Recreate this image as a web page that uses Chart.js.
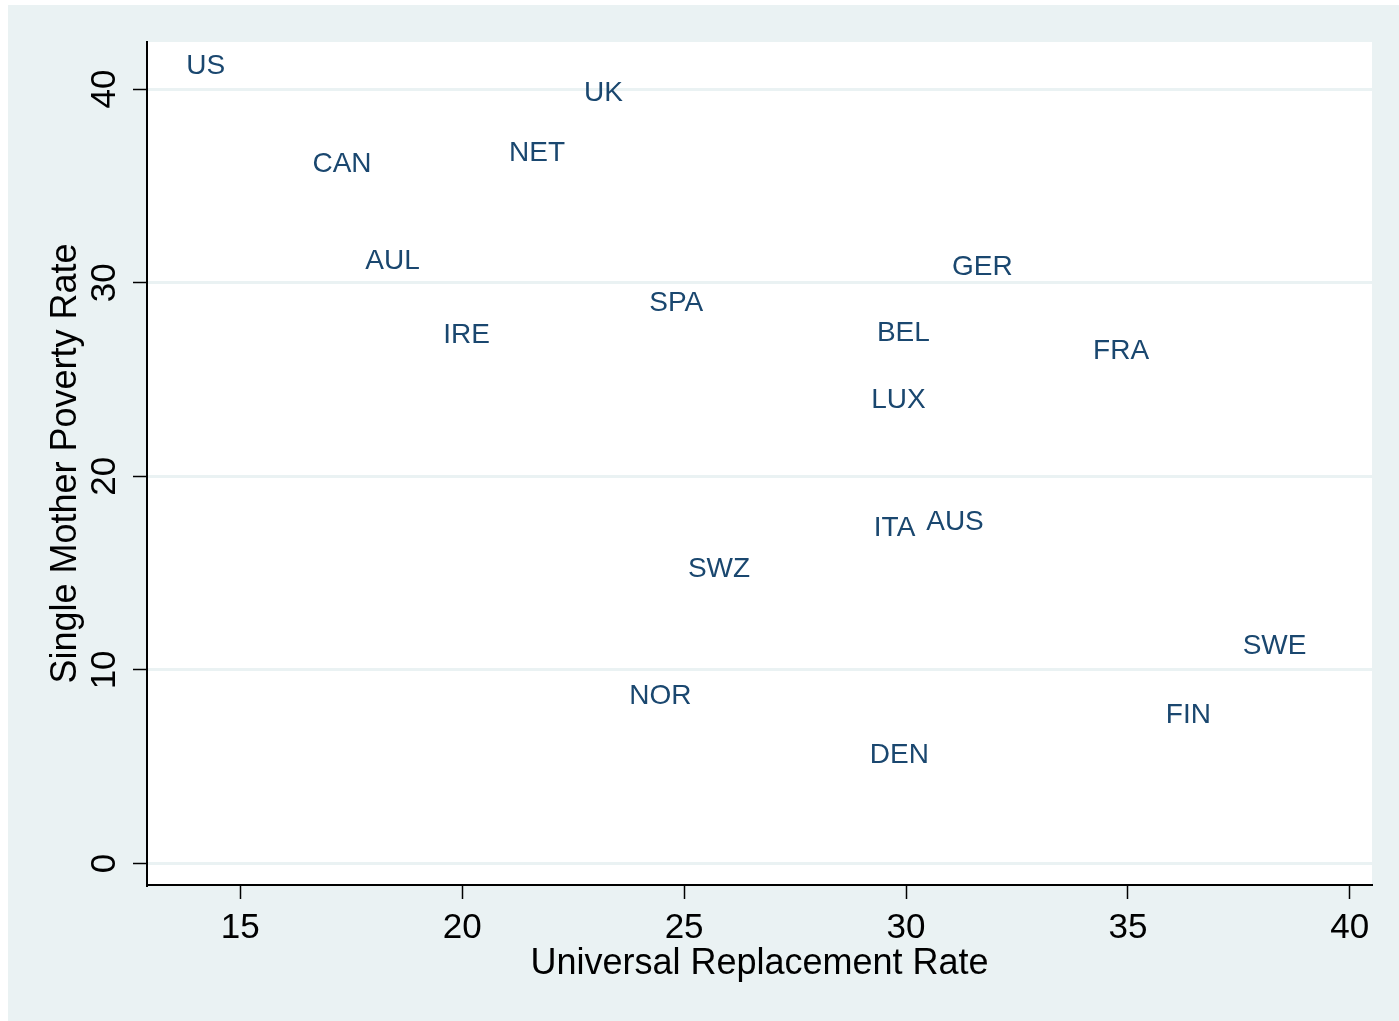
<!DOCTYPE html>
<html>
<head>
<meta charset="utf-8">
<script src="https://cdn.jsdelivr.net/npm/chart.js@4/dist/chart.umd.min.js"></script>
<style>
  html, body { margin: 0; padding: 0; background: #ffffff; }
  canvas { display: block; }
</style>
</head>
<body>
<canvas id="c" width="1399" height="1021"></canvas>
<script>
// ---- data ----
const countries = ["US","UK","CAN","NET","AUL","GER","SPA","IRE","BEL","FRA","LUX","ITA","AUS","SWZ","SWE","NOR","FIN","DEN"];
const replacementRate = [13.65,22.61,16.49,20.92,17.68,30.90,24.08,19.44,29.21,34.08,29.08,29.14,30.32,24.95,37.45,23.63,35.72,29.05];
const povertyRate = [41.29,39.90,36.23,36.80,31.21,30.90,29.04,27.39,27.49,26.56,24.03,17.42,17.73,15.30,11.32,8.73,7.75,5.68];
const xTicks = [15,20,25,30,35,40];
const yTicks = [0,10,20,30,40];
const xTitle = "Universal Replacement Rate";
const yTitle = "Single Mother Poverty Rate";

const FONT = "'Liberation Sans', Arial, Helvetica, sans-serif";
const BG = "#EAF2F3";
const LABEL_COLOR = "#1a476f";

const points = countries.map((c, i) => ({ x: replacementRate[i], y: povertyRate[i] }));

const bgPlugin = {
  id: 'bg',
  beforeDraw(chart) {
    const { ctx, width, height, chartArea } = chart;
    ctx.save();
    ctx.fillStyle = '#ffffff';
    ctx.fillRect(0, 0, width, height);
    ctx.fillStyle = BG;
    ctx.fillRect(8, 5, width - 8, height - 5);
    ctx.fillStyle = '#ffffff';
    ctx.fillRect(chartArea.left, chartArea.top, chartArea.right - chartArea.left, chartArea.bottom - chartArea.top);
    ctx.restore();
  }
};

const labelPlugin = {
  id: 'pointLabels',
  afterDatasetsDraw(chart) {
    const { ctx } = chart;
    const meta = chart.getDatasetMeta(0);
    ctx.save();
    ctx.font = "28px " + FONT;
    ctx.fillStyle = LABEL_COLOR;
    ctx.textAlign = 'left';
    ctx.textBaseline = 'middle';
    meta.data.forEach((pt, i) => {
      ctx.fillText(countries[i], pt.x + 6, pt.y + 2);
    });
    ctx.restore();
  }
};

new Chart(document.getElementById('c'), {
  type: 'scatter',
  data: {
    datasets: [{
      data: points,
      pointRadius: 0,
      pointHoverRadius: 0,
      showLine: false
    }]
  },
  options: {
    responsive: false,
    animation: false,
    devicePixelRatio: 1,
    layout: { padding: { top: 42, right: 27, left: 0, bottom: 0 } },
    plugins: { legend: { display: false }, tooltip: { enabled: false } },
    scales: {
      x: {
        type: 'linear',
        position: 'bottom',
        min: 12.898,
        max: 40.50,
        afterBuildTicks(scale) { scale.ticks = xTicks.map(v => ({ value: v })); },
        afterFit(scale) { scale.height = 1021 - 885; },
        ticks: {
          color: '#000',
          font: { family: FONT, size: 35 },
          padding: 8,
          maxRotation: 0,
          minRotation: 0,
          autoSkip: false
        },
        grid: {
          drawOnChartArea: false,
          drawTicks: true,
          tickLength: 14,
          tickColor: '#000',
          tickWidth: 1.5
        },
        border: { display: true, color: '#000', width: 2 },
        title: {
          display: true,
          text: xTitle,
          color: '#000',
          font: { family: FONT, size: 36 },
          padding: { top: 0, bottom: 35 }
        }
      },
      y: {
        type: 'linear',
        position: 'left',
        min: -1.11,
        max: 42.43,
        afterBuildTicks(scale) { scale.ticks = yTicks.map(v => ({ value: v })); },
        afterFit(scale) { scale.width = 147; },
        ticks: {
          color: '#000',
          font: { family: FONT, size: 35 },
          padding: 8,
          minRotation: 90,
          maxRotation: 90,
          crossAlign: 'center',
          autoSkip: false
        },
        grid: {
          drawOnChartArea: true,
          color: BG,
          lineWidth: 3,
          drawTicks: true,
          tickLength: 14,
          tickColor: '#000',
          tickWidth: 1.5
        },
        border: { display: true, color: '#000', width: 2 },
        title: {
          display: true,
          text: yTitle,
          color: '#000',
          font: { family: FONT, size: 36 },
          padding: { top: 44, bottom: 0 }
        }
      }
    }
  },
  plugins: [bgPlugin, labelPlugin]
});
</script>
</body>
</html>
